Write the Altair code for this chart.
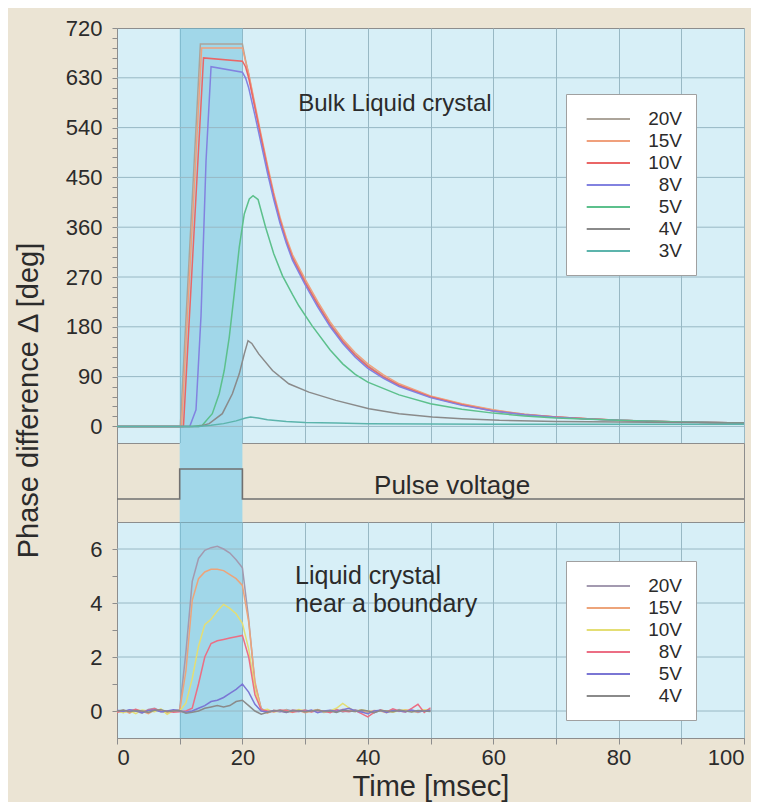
import altair as alt
import pandas as pd

# ---------------- style constants ----------------
BEIGE = "#ebe4d4"
PLOT_BG = "#d7eff7"
BAND = "#6cc0dc"
BAND_OPACITY = 0.5
BAND_SOLID = "#a1d7e9"
GRID = "#98b8c4"
FRAME = "#8d8d8d"
TEXT = "#2b2b2b"
FONT = "Liberation Sans"
W = 627
H_TOP, H_MID, H_BOT = 415, 79, 216

# ---------------- data ----------------
x_tick_values = [0, 10, 20, 30, 40, 50, 60, 70, 80, 90, 100]
band_start = [10]
band_end = [20]

# Top panel: bulk liquid crystal, phase difference [deg]
top_tick_values = list(range(0, 721, 18))
top_grid_values = [0, 90, 180, 270, 360, 450, 540, 630]
bulk_series = ["20V", "15V", "10V", "8V", "5V", "4V", "3V"]
bulk_colors = ["#aca49a", "#f0a07c", "#ea6666", "#8282e0", "#5cc08c", "#8a8a8a", "#5cb4ac"]

decay_t = [20.5, 21, 22, 23, 24, 25, 26, 27, 28, 30, 32, 34, 36, 38, 40, 42.5,
           45, 50, 55, 60, 65, 70, 75, 80, 85, 90, 95, 100]

bulk_20V_t = [0, 10.1, 13.3, 20] + decay_t
bulk_20V_y = [0, 0, 691, 691] + [662, 636, 578, 522, 468, 418, 374, 337, 306, 262, 222, 185, 155, 130,
                                 110, 90, 75, 54, 40, 29, 22, 17, 14, 11, 9.5, 8, 7, 6]
bulk_15V_t = [0, 10.3, 13.5, 20] + decay_t
bulk_15V_y = [0, 0, 684, 684] + [660, 638, 582, 526, 472, 422, 378, 341, 310, 266, 226, 189, 158, 133,
                                 113, 93, 77, 55, 41, 30, 22, 17, 14, 11, 9.5, 8, 7, 6]
bulk_10V_t = [0, 10.6, 13.8, 20] + decay_t
bulk_10V_y = [0, 0, 666, 660] + [650, 630, 576, 520, 466, 416, 372, 335, 304, 260, 220, 183, 153, 128,
                                 108, 89, 74, 53, 39, 28, 21, 17, 14, 11, 9.5, 8, 7, 6]
bulk_8V_t = [0, 11.6, 12.6, 13.4, 14.2, 15.0, 20] + decay_t
bulk_8V_y = [0, 0, 30, 200, 480, 650, 640] + [630, 612, 562, 510, 458, 410, 367, 331, 300, 256, 216, 180,
                                             150, 125, 105, 87, 72, 52, 38, 28, 21, 16.5, 13.5, 11, 9.5,
                                             8, 7, 6]
bulk_5V_t = [0, 12.0, 13.6, 15.2, 16.3, 17.1, 17.9, 18.7, 19.5, 20.3, 21.1, 21.7, 22.5, 23.7, 25,
             26.4, 28, 29, 31.1, 34, 36, 38, 40, 45, 50, 55, 60, 65, 70, 80, 90, 100]
bulk_5V_y = [0, 0, 2, 23, 59, 101, 161, 240, 324, 384, 411, 417, 410, 360, 312,
             272, 238, 218, 182, 138, 113, 94, 80, 57, 41, 31, 24, 19, 15, 11, 8, 6]
bulk_4V_t = [0, 13, 14.7, 16.8, 18.4, 19.5, 20.3, 20.9, 21.5, 22.6, 24.8, 27.4, 30.6, 34.9, 40.2,
             45, 50.3, 55, 61, 70, 80, 90, 100]
bulk_4V_y = [0, 0, 5, 23, 59, 95, 131, 155, 150, 131, 101, 77, 62, 47, 32,
             23, 17, 14, 11, 9, 8, 7, 6]
bulk_3V_t = [0, 13, 15, 17, 19, 20.5, 21.3, 22.5, 24, 27, 30, 35, 40, 50, 60, 80, 100]
bulk_3V_y = [0, 0, 2, 5, 10, 15, 17, 15, 12, 9, 7, 6, 5, 4.5, 4, 4, 4]

# Middle panel: pulse voltage
pulse_t = [0, 10, 10, 20, 20, 100]
pulse_v = [0, 0, 1, 1, 0, 0]

# Bottom panel: liquid crystal near a boundary
bot_tick_values = [0, 1, 2, 3, 4, 5, 6]
bot_grid_values = [0, 2, 4, 6]
bnd_series = ["20V", "15V", "10V", "8V", "5V", "4V"]
bnd_colors = ["#a39ab0", "#eda47a", "#e4de74", "#ec6e84", "#7a76d4", "#8a8a8a"]
bnd_t = [0, 1, 2, 3, 4, 5, 6, 7, 8, 9, 10, 11, 12, 13, 14, 15, 16, 17, 18, 19, 20, 21, 22, 23, 24, 25,
         26, 27, 28, 29, 30, 31, 32, 33, 34, 35, 36, 37, 38, 39, 40, 41, 42, 43, 44, 45, 46, 47, 48, 49, 50]
bnd_20V = [0.02, -0.05, 0.04, 0.0, -0.08, 0.06, 0.1, -0.02, -0.06, 0.03, 0.05,
           2.2, 4.8, 5.65, 5.95, 6.05, 6.1, 6.0, 5.85, 5.6, 5.3, 3.4, 1.0,
           0.1, -0.05, 0.02, -0.04, 0.05, 0.0, -0.03, 0.04, -0.02, 0.03, -0.05, 0.0, 0.06, -0.04,
           0.02, 0.05, -0.03, 0.0, -0.06, 0.03, 0.0, -0.04, 0.05, -0.02, 0.02, -0.05, 0.03, 0.0]
bnd_15V = [-0.04, 0.03, -0.08, 0.05, 0.0, -0.1, 0.04, 0.02, -0.05, 0.0, 0.02,
           1.5, 4.1, 4.9, 5.15, 5.25, 5.25, 5.2, 5.05, 4.9, 4.65, 3.3, 1.1,
           0.05, -0.08, 0.03, 0.0, -0.05, 0.04, 0.02, -0.06, 0.0, 0.05, -0.03, 0.02, -0.04, 0.06,
           0.0, -0.02, 0.04, -0.05, 0.02, 0.0, -0.06, 0.03, -0.02, 0.05, 0.0, -0.04, 0.02, 0.04]
bnd_10V = [0.0, -0.06, 0.02, -0.1, 0.04, 0.0, -0.03, 0.08, -0.12, 0.02, 0.0,
           0.3, 1.2, 2.4, 3.2, 3.4, 3.7, 3.95, 3.8, 3.6, 3.25, 2.3, 0.8,
           0.02, 0.06, -0.04, 0.0, 0.03, -0.05, 0.05, 0.0, -0.02, 0.04, -0.03, 0.0, 0.1, 0.28,
           0.12, -0.02, 0.05, 0.0, -0.04, 0.03, 0.0, -0.05, 0.02, 0.04, -0.03, 0.0, 0.05, 0.02]
bnd_8V = [-0.05, 0.02, 0.0, 0.06, -0.04, 0.03, 0.08, -0.02, 0.0, -0.05, -0.03,
          0.0, 0.1, 1.0, 2.0, 2.5, 2.6, 2.65, 2.7, 2.75, 2.8, 2.0, 0.6,
          0.05, 0.0, -0.03, 0.04, 0.02, -0.05, 0.0, 0.03, -0.04, 0.02, 0.0, -0.06, 0.04, 0.0,
          -0.03, 0.02, -0.1, -0.22, -0.05, 0.04, -0.03, 0.08, 0.0, -0.04, 0.1, 0.25, -0.05, 0.12]
bnd_5V = [0.03, -0.02, 0.05, 0.0, -0.06, 0.02, 0.04, -0.03, 0.0, 0.05, 0.0,
          -0.05, 0.0, 0.1, 0.2, 0.35, 0.4, 0.5, 0.65, 0.8, 1.0, 0.7, 0.25,
          0.0, -0.04, 0.02, 0.0, -0.05, 0.03, 0.0, -0.02, 0.04, -0.06, 0.0, 0.03, -0.02, 0.05,
          0.1, 0.0, -0.04, -0.1, 0.0, 0.03, -0.05, 0.02, 0.0, -0.03, 0.04, -0.02, 0.0, 0.03]
bnd_4V = [0.0, 0.04, -0.03, 0.02, 0.0, -0.05, 0.03, 0.05, -0.02, 0.0, 0.02,
          -0.08, -0.05, 0.0, 0.1, 0.15, 0.2, 0.15, 0.2, 0.35, 0.4, 0.2, 0.0,
          -0.12, -0.05, 0.0, 0.03, -0.04, 0.0, 0.02, -0.03, 0.0, 0.04, -0.02, 0.0, -0.05, 0.03,
          0.0, -0.02, 0.04, 0.0, -0.06, 0.02, 0.0, -0.03, 0.03, 0.0, -0.04, 0.02, 0.0, -0.02]

# Annotations
top_note_t, top_note_y, top_note_text = [28.9], [583], ["Bulk Liquid crystal"]
mid_note_t, mid_note_y, mid_note_text = [41], [0.43], ["Pulse voltage"]
bot_note_t = [28.4, 28.4]
bot_note_y = [5.0, 3.96]
bot_note_text = ["Liquid crystal", "near a boundary"]

# ---------------- tables ----------------
bulk_rows = []
for name, ts, ys in [("20V", bulk_20V_t, bulk_20V_y), ("15V", bulk_15V_t, bulk_15V_y),
                     ("10V", bulk_10V_t, bulk_10V_y), ("8V", bulk_8V_t, bulk_8V_y),
                     ("5V", bulk_5V_t, bulk_5V_y), ("4V", bulk_4V_t, bulk_4V_y),
                     ("3V", bulk_3V_t, bulk_3V_y)]:
    for i, (t, y) in enumerate(zip(ts, ys)):
        bulk_rows.append({"t": t, "deg": y, "series": name, "i": i})
bulk_df = pd.DataFrame(bulk_rows)

pulse_df = pd.DataFrame({"t": pulse_t, "v": pulse_v, "i": list(range(len(pulse_t)))})

bnd_rows = []
for name, ys in [("20V", bnd_20V), ("15V", bnd_15V), ("10V", bnd_10V),
                 ("8V", bnd_8V), ("5V", bnd_5V), ("4V", bnd_4V)]:
    for i, (t, y) in enumerate(zip(bnd_t, ys)):
        bnd_rows.append({"t": t, "d": y, "series": name, "i": i})
bnd_df = pd.DataFrame(bnd_rows)

band_df = pd.DataFrame({"a": band_start, "b": band_end})

xscale = alt.Scale(domain=[0, 100], nice=False, zero=False)
top_yscale = alt.Scale(domain=[-30, 720], nice=False, zero=False)
bot_yscale = alt.Scale(domain=[-1, 7], nice=False, zero=False)


def legend(x, y):
    return alt.Legend(orient="none", legendX=x, legendY=y, fillColor="white",
                      strokeColor="#a0a0a0", padding=14, symbolType="M-0.43,0H3.9",
                      symbolSize=400, symbolStrokeWidth=2, labelAlign="right",
                      labelOffset=80, labelFont=FONT, labelFontSize=19, labelColor=TEXT,
                      rowPadding=1)


x_hidden = alt.Axis(labels=False, ticks=False, domain=False, grid=True, gridColor=GRID,
                    values=x_tick_values)
top_yaxis = alt.Axis(values=top_tick_values, grid=False, labelOverlap=False,
                     labelExpr="datum.value % 90 === 0 ? datum.label : ''",
                     tickSize=5, tickColor=FRAME, labelPadding=10, domainColor=FRAME,
                     labelFont=FONT, labelFontSize=22, labelColor=TEXT)
x_bottom = alt.Axis(values=x_tick_values, labelExpr="datum.value % 20 === 0 ? datum.label : ''",
                    labelOverlap=False, grid=True, gridColor=GRID, tickSize=6, tickColor=FRAME,
                    domainColor=FRAME, labelPadding=3, labelFont=FONT, labelFontSize=22,
                    labelColor=TEXT, titleFont=FONT, titleFontSize=29, titleFontWeight="normal",
                    titleColor=TEXT, titlePadding=4)
bot_yaxis = alt.Axis(values=bot_tick_values, grid=False, labelOverlap=False,
                     labelExpr="datum.value % 2 === 0 ? datum.label : ''",
                     tickSize=5, tickColor=FRAME, labelPadding=10, domainColor=FRAME,
                     labelFont=FONT, labelFontSize=22, labelColor=TEXT)

# ---------------- top panel ----------------
band_top = alt.Chart(band_df).mark_rect(color=BAND, opacity=BAND_OPACITY).encode(
    x=alt.X("a:Q", scale=xscale, axis=x_hidden, title=None), x2="b:Q")

top_grid = alt.Chart(pd.DataFrame({"g": top_grid_values})).mark_rule(color=GRID, strokeWidth=1).encode(
    y=alt.Y("g:Q", scale=top_yscale, axis=top_yaxis, title=None))

top_lines = alt.Chart(bulk_df).mark_line(strokeWidth=1.5).encode(
    x=alt.X("t:Q", scale=xscale, axis=x_hidden, title=None),
    y=alt.Y("deg:Q", scale=top_yscale, axis=top_yaxis, title=None),
    color=alt.Color("series:N", scale=alt.Scale(domain=bulk_series, range=bulk_colors),
                    title=None, legend=legend(449, 66)),
    order=alt.Order("i:Q"),
)
top_text = alt.Chart(pd.DataFrame({"t": top_note_t, "deg": top_note_y, "s": top_note_text})).mark_text(
    align="left", baseline="middle", font=FONT, fontSize=24, color=TEXT).encode(
    x=alt.X("t:Q", scale=xscale, axis=x_hidden, title=None),
    y=alt.Y("deg:Q", scale=top_yscale, axis=top_yaxis, title=None), text="s:N")

top = alt.layer(band_top, top_grid, top_lines, top_text).properties(
    width=W, height=H_TOP, view=alt.ViewBackground(fill=PLOT_BG, stroke=FRAME))

# ---------------- middle panel ----------------
band_mid = alt.Chart(band_df).mark_rect(color=BAND_SOLID).encode(
    x=alt.X("a:Q", scale=xscale, axis=None), x2="b:Q")
mid_yaxis = alt.Axis(title="Phase difference Δ [deg]", labels=False, ticks=False, grid=False,
                     domainColor=FRAME, titleX=-74, titleY=-43, titleFont=FONT,
                     titleFontSize=29, titleFontWeight="normal", titleColor=TEXT)
mid_yscale = alt.Scale(domain=[-0.77, 1.87], nice=False, zero=False)
pulse = alt.Chart(pulse_df).mark_line(color="#707070", strokeWidth=1.6).encode(
    x=alt.X("t:Q", scale=xscale, axis=None),
    y=alt.Y("v:Q", scale=mid_yscale, axis=mid_yaxis),
    order=alt.Order("i:Q"),
)
mid_text = alt.Chart(pd.DataFrame({"t": mid_note_t, "v": mid_note_y, "s": mid_note_text})).mark_text(
    align="left", baseline="middle", font=FONT, fontSize=26, color=TEXT).encode(
    x=alt.X("t:Q", scale=xscale, axis=None), y=alt.Y("v:Q", scale=mid_yscale, axis=mid_yaxis),
    text="s:N")
mid = alt.layer(band_mid, pulse, mid_text).properties(
    width=W, height=H_MID, view=alt.ViewBackground(fill=BEIGE, stroke=FRAME))

# ---------------- bottom panel ----------------
band_bot = alt.Chart(band_df).mark_rect(color=BAND, opacity=BAND_OPACITY).encode(
    x=alt.X("a:Q", scale=xscale, axis=x_bottom, title="Time [msec]"), x2="b:Q")
bot_grid = alt.Chart(pd.DataFrame({"g": bot_grid_values})).mark_rule(color=GRID, strokeWidth=1).encode(
    y=alt.Y("g:Q", scale=bot_yscale, axis=bot_yaxis, title=None))
bot_lines = alt.Chart(bnd_df).mark_line(strokeWidth=1.5).encode(
    x=alt.X("t:Q", scale=xscale, axis=x_bottom, title="Time [msec]"),
    y=alt.Y("d:Q", scale=bot_yscale, axis=bot_yaxis, title=None),
    color=alt.Color("series:N", scale=alt.Scale(domain=bnd_series, range=bnd_colors),
                    title=None, legend=legend(449, 39)),
    order=alt.Order("i:Q"),
)
bot_text = alt.Chart(pd.DataFrame({"t": bot_note_t, "d": bot_note_y, "s": bot_note_text})).mark_text(
    align="left", baseline="middle", font=FONT, fontSize=25, color=TEXT).encode(
    x=alt.X("t:Q", scale=xscale, axis=x_bottom, title="Time [msec]"),
    y=alt.Y("d:Q", scale=bot_yscale, axis=bot_yaxis, title=None), text="s:N")
bot = alt.layer(band_bot, bot_grid, bot_lines, bot_text).properties(
    width=W, height=H_BOT, view=alt.ViewBackground(fill=PLOT_BG, stroke=FRAME))

chart = alt.vconcat(top, mid, bot, spacing=0, bounds="flush").resolve_scale(
    color="independent").properties(
    padding={"left": 5, "top": 8, "right": 3, "bottom": 0}).configure(
    background=BEIGE, font=FONT).configure_view(stroke=FRAME)

chart.save("out.html", embed_options={"renderer": "svg", "actions": False})
